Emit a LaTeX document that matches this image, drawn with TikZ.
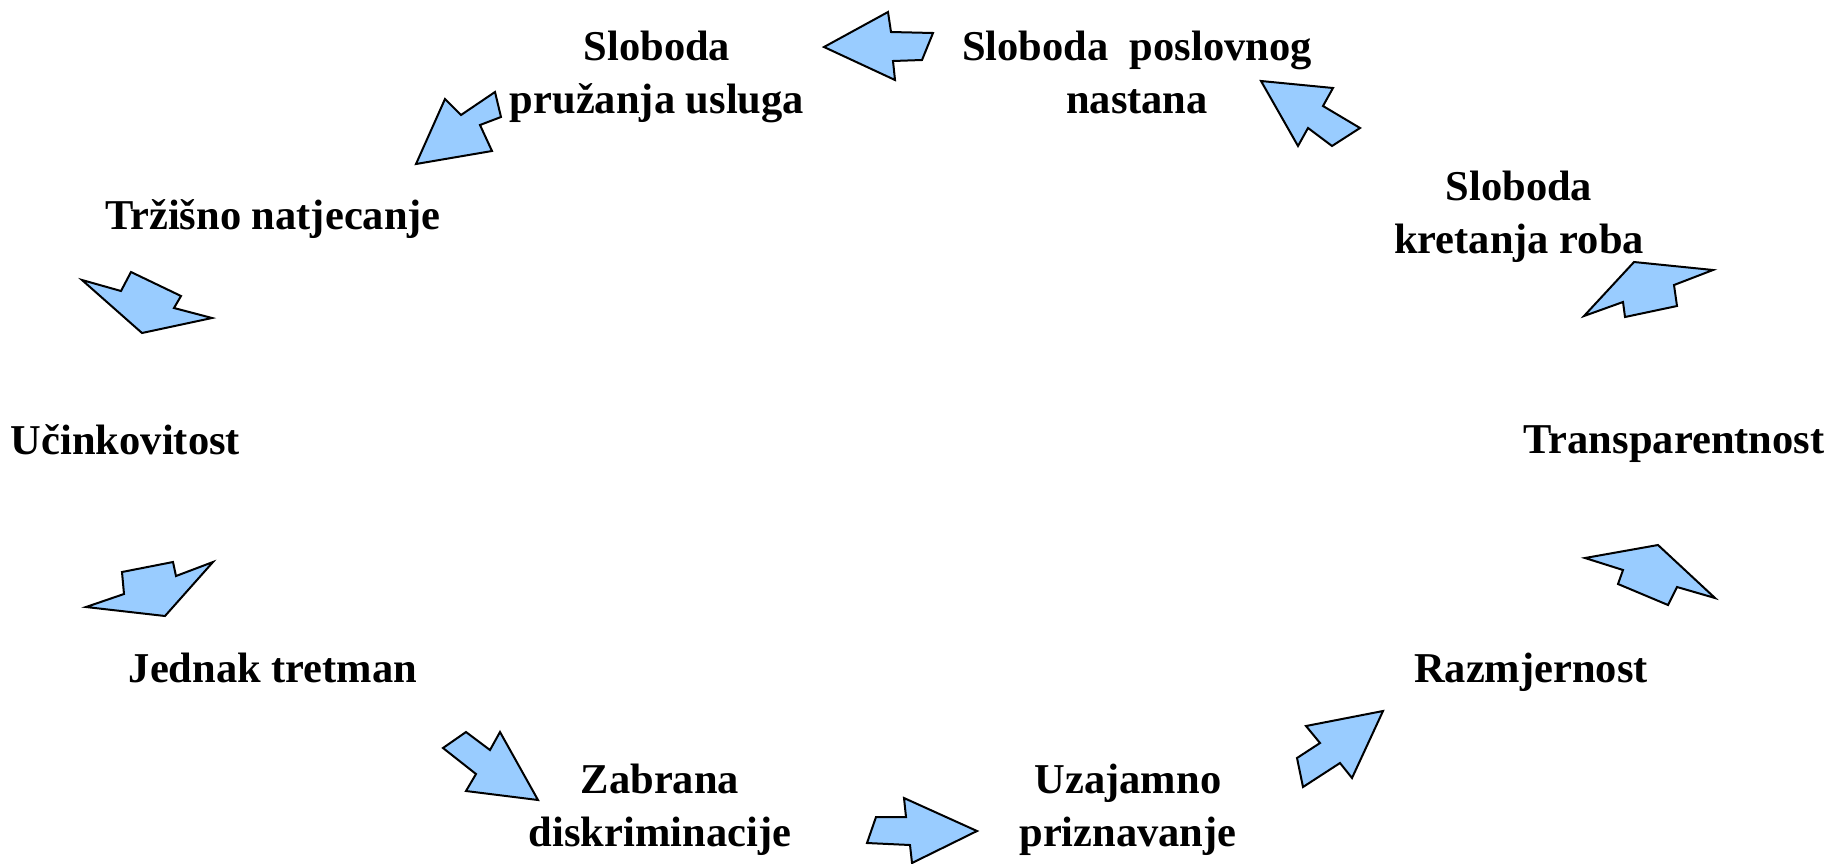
\documentclass[tikz,border=0pt]{standalone}
\usepackage{fontspec}
\setmainfont{Liberation Serif}
\begin{document}
\begin{tikzpicture}[x=1pt,y=-1pt,
  arr/.style={fill={rgb,255:red,153;green,204;blue,255},draw=black,line width=2pt,line join=miter},
  lbl/.style={font=\fontsize{42.5}{53}\selectfont\bfseries,align=center,anchor=base,inner sep=0pt}]
\useasboundingbox (0,0) rectangle (1833,863);
% labels (for two-line labels the base anchor is on the last line)
\node[lbl] (usluge) at (657,113) {Sloboda\\pružanja usluga};
\node[lbl] (nastan) at (1137,113) {Sloboda\ \ poslovnog\\nastana};
\node[lbl] (trziste) at (273,229) {Tržišno natjecanje};
\node[lbl] (ucink) at (125.5,454) {Učinkovitost};
\node[lbl] (jednak) at (273,682) {Jednak tretman};
\node[lbl] (zabrana) at (660,846) {Zabrana\\diskriminacije};
\node[lbl] (uzaj) at (1128,846) {Uzajamno\\priznavanje};
\node[lbl] (razmj) at (1531,682) {Razmjernost};
\node[lbl] (transp) at (1674,453) {Transparentnost};
\node[lbl] (roba) at (1519,253) {Sloboda\\kretanja roba};
% arrows
\draw[arr] (824,47) -- (888,12) -- (891,32) -- (933,33) -- (922,60) -- (893,61) -- (895,80) -- cycle;
\draw[arr] (416,164) -- (445,99) -- (461,115) -- (495,92) -- (501,117) -- (480,125) -- (492,151) -- cycle;
\draw[arr] (82,280) -- (121,291) -- (131,272) -- (181,296) -- (174,308) -- (212,318) -- (142,333) -- cycle;
\draw[arr] (86,607) -- (124,594) -- (122,572) -- (173,562) -- (176,576) -- (213,562) -- (165,616) -- cycle;
\draw[arr] (443,748) -- (466,732) -- (490,750) -- (500,732) -- (538,800) -- (466,791) -- (476,774) -- cycle;
\draw[arr] (867,843) -- (876,817) -- (906,817) -- (904,798) -- (977,831) -- (912,863) -- (910,845) -- cycle;
\draw[arr] (1306,726) -- (1383,711) -- (1352,778) -- (1340,763) -- (1303,787) -- (1297,758) -- (1320,743) -- cycle;
\draw[arr] (1585,558) -- (1658,545) -- (1715,598) -- (1677,587) -- (1668,605) -- (1618,584) -- (1623,570) -- cycle;
\draw[arr] (1584,316) -- (1634,262) -- (1713,270) -- (1674,285) -- (1677,306) -- (1625,317) -- (1623,302) -- cycle;
\draw[arr] (1261,81) -- (1333,88) -- (1323,106) -- (1360,128) -- (1332,146) -- (1308,128) -- (1298,146) -- cycle;
\end{tikzpicture}
\end{document}
